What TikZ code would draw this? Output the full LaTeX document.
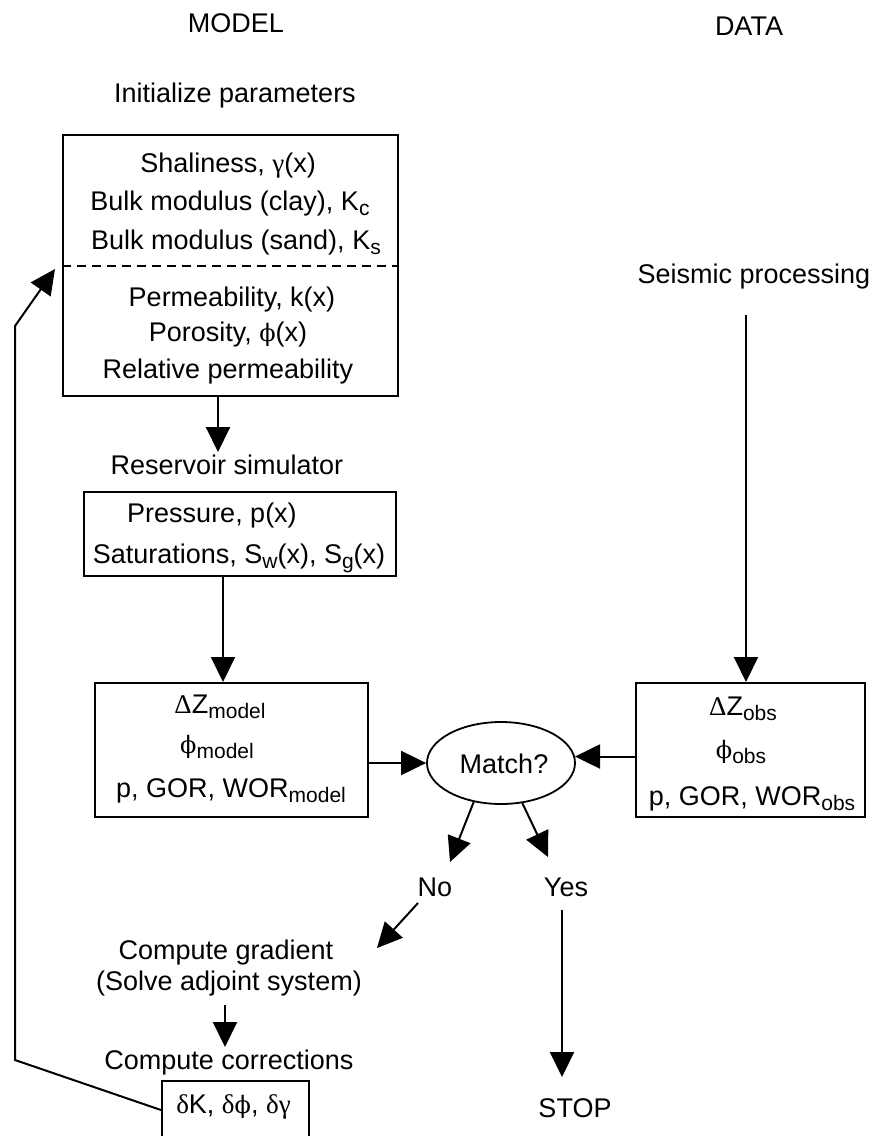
\documentclass[tikz,border=0pt]{standalone}
\usepackage{fontspec}
\setmainfont{Liberation Sans}
\newfontfamily\grkfont{Liberation Serif}
\newfontfamily\phifont{DejaVu Serif}
\usetikzlibrary{arrows.meta,shapes.geometric}
\newcommand\lowsub[1]{\raisebox{-5.5pt}{\fontsize{21}{21}\selectfont #1}}
\newcommand\gam{{\grkfont γ}}
\newcommand\del{{\grkfont δ}}
\newcommand\Del{{\grkfont Δ}}
\newcommand\ph{{\phifont\fontsize{24}{24}\selectfont ϕ}}
\begin{document}
\begin{tikzpicture}[x=1pt,y=-1pt,
  every node/.style={font=\fontsize{27}{30}\selectfont},
  txt/.style={anchor=base,inner sep=0pt},
  box/.style={draw,line width=2pt,inner sep=0pt},
  line/.style={line width=2pt},
  arr/.style={line width=2pt,-{Triangle[length=25pt,width=24pt]}}]
\useasboundingbox (0,0) rectangle (880,1136);
% headers
\node[txt] (model) at (236,32) {MODEL};
\node[txt] (data) at (749,35) {DATA};
\node[txt] (init) at (235,102) {Initialize parameters};
% box 1
\node[box,minimum width=335pt,minimum height=261pt] (b1) at (230.5,265.5) {};
\draw[line,dash pattern=on 9pt off 6pt] (b1.west) -- (b1.east);
\node[txt] (t11) at (228,172) {Shaliness, \gam(x)};
\node[txt] (t12) at (230,210) {Bulk modulus (clay), K\lowsub{c}};
\node[txt] (t13) at (236,249) {Bulk modulus (sand), K\lowsub{s}};
\node[txt] (t14) at (232,306) {Permeability, k(x)};
\node[txt] (t15) at (228,341) {Porosity, \ph(x)};
\node[txt] (t16) at (228,378) {Relative permeability};
% reservoir simulator
\coordinate (a1) at (218,452);
\node[txt] (res) at (227,474) {Reservoir simulator};
\node[box,minimum width=312pt,minimum height=84pt] (b2) at (240,534) {};
\node[txt] (t21) at (212,522) {Pressure, p(x)};
\node[txt] (t22) at (239,563) {Saturations, S\lowsub{w}(x), S\lowsub{g}(x)};
% box 3 (model)
\node[box,minimum width=273pt,minimum height=134pt] (b3) at (231.5,750) {};
\node[txt] (t31) at (220,713) {\Del Z\lowsub{model}};
\node[txt] (t32) at (217,753) {\ph\lowsub{model}};
\node[txt] (t33) at (231,797) {p, GOR, WOR\lowsub{model}};
% data side
\node[txt] (seis) at (754,283) {Seismic processing};
\coordinate (s0) at (746,315);
\node[box,minimum width=229pt,minimum height=134pt] (b4) at (750.5,750) {};
\node[txt] (t41) at (743,715) {\Del Z\lowsub{obs}};
\node[txt] (t42) at (741,758) {\ph\lowsub{obs}};
\node[txt] (t43) at (752,805) {p, GOR, WOR\lowsub{obs}};
% match
\node[draw,ellipse,line width=1.8pt,minimum width=148pt,minimum height=82pt,inner sep=0pt] (m) at (501,763) {};
\node[txt] (mt) at (504,773) {Match?};
% branches
\coordinate (notip) at (450,862);
\coordinate (yestip) at (548,857);
\node[txt] (no) at (435,896) {No};
\node[txt] (yes) at (566,896) {Yes};
\coordinate (no0) at (418,903);
\coordinate (gtip) at (377,948);
\node[txt] (g1) at (226,959) {Compute gradient};
\node[txt] (g2) at (229,990) {(Solve adjoint system)};
\coordinate (c0) at (225,1005);
\coordinate (ctip) at (225,1047);
\node[txt] (corr) at (229,1069) {Compute corrections};
\node[box,minimum width=147pt,minimum height=69pt] (b5) at (235.5,1115.5) {};
\node[txt] (t51) at (233.5,1113) {\del K, \del\ph, \del\gam};
\coordinate (y0) at (562,910);
\coordinate (ytip) at (562,1077);
\node[txt] (stop) at (575,1117) {STOP};
% feedback
\coordinate (f0) at (162,1110);
\coordinate (f1) at (15,1060);
\coordinate (f2) at (15,326);
\coordinate (f3) at (55,269);
% connectors
\draw[arr] (b1.south -| a1) -- (a1);
\draw[arr] (b2.south -| 223,0) -- (b3.north -| 223,0);
\draw[arr] (s0) -- (b4.north -| s0);
\draw[arr] (b3.east |- m.west) -- (m.west);
\draw[arr] (b4.west |- m.5) -- (m.5);
\draw[arr] (m.-125) -- (notip);
\draw[arr] (m.-62) -- (yestip);
\draw[arr] (no0) -- (gtip);
\draw[arr] (c0) -- (ctip);
\draw[arr] (y0) -- (ytip);
\draw[arr] (b5.west |- f0) -- (f1) -- (f2) -- (f3);
\end{tikzpicture}
\end{document}
